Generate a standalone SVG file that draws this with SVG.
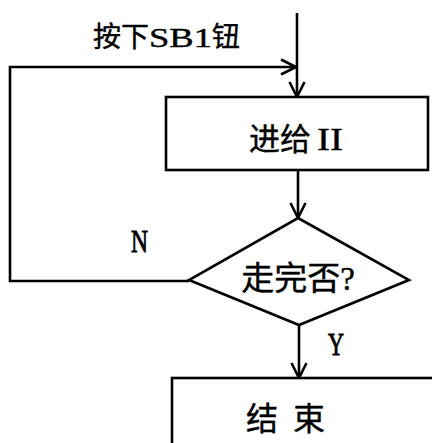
<svg xmlns="http://www.w3.org/2000/svg" width="432" height="443" viewBox="0 0 432 443">
<style>
.ln{fill:none;stroke:#000;stroke-width:2.6;stroke-linejoin:miter}
.shape{fill:#fff;stroke:#000;stroke-width:2.6}
.t{font-family:"Liberation Serif","Noto Sans CJK SC",serif;fill:#000;stroke:#000;stroke-width:0.4}
.lat{stroke-width:0.9}
</style>
<defs>
<marker id="arr" markerUnits="userSpaceOnUse" viewBox="0 0 18 18" refX="16" refY="9" markerWidth="18" markerHeight="18" orient="auto">
<path d="M1,1.5 L16,9 L1,16.5" fill="none" stroke="#000" stroke-width="2.6"/>
</marker>
</defs>
<rect width="432" height="443" fill="#fff"/>
<g id="connectors">
<line class="ln" x1="297" y1="13" x2="297" y2="97" marker-end="url(#arr)"/>
<polyline class="ln" points="189,281 10,281 10,67 296,67" marker-end="url(#arr)"/>
<line class="ln" x1="298" y1="170" x2="298" y2="218" marker-end="url(#arr)"/>
<line class="ln" x1="299" y1="325" x2="299" y2="378" marker-end="url(#arr)"/>
<text class="t" x="93" y="47" font-size="28">按下<tspan textLength="63" lengthAdjust="spacingAndGlyphs">SB1</tspan>钮</text>
<text class="t lat" x="131" y="252" font-size="32" textLength="17" lengthAdjust="spacingAndGlyphs">N</text>
<text class="t lat" x="328" y="355" font-size="32" textLength="16" lengthAdjust="spacingAndGlyphs">Y</text>
</g>
<g id="node-feed">
<rect class="shape" x="166" y="97" width="262" height="73"/>
<text class="t" x="249" y="150" font-size="31">进给<tspan x="317" textLength="26" lengthAdjust="spacingAndGlyphs">II</tspan></text>
</g>
<g id="node-decision">
<polygon class="shape" points="298,218 409,280 299,325 189,280"/>
<text class="t" x="298" y="290" font-size="33" text-anchor="middle">走完否?</text>
</g>
<g id="node-end">
<rect class="shape" x="172" y="378" width="300" height="100"/>
<text class="t" y="430" font-size="32"><tspan x="246">结</tspan><tspan x="293">束</tspan></text>
</g>
</svg>
